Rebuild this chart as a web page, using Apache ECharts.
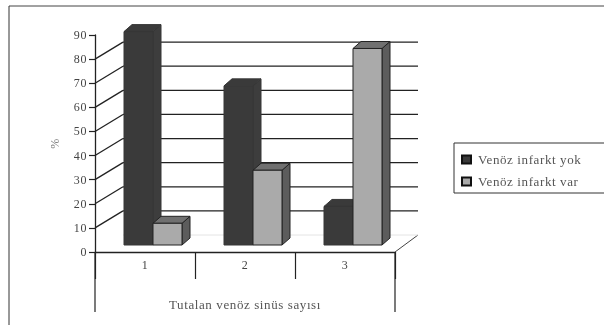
<!DOCTYPE html>
<html>
<head>
<meta charset="utf-8">
<style>
html, body { margin: 0; padding: 0; background: #fff; }
#chart { width: 604px; height: 325px; filter: blur(0.5px); }
#chart text { letter-spacing: 0.6px; }
</style>
<script src="https://cdn.jsdelivr.net/npm/echarts@6/dist/echarts.min.js"></script>
</head>
<body>
<div id="chart"></div>
<script>
const categories = ['1', '2', '3'];
const yokValues = [88.5, 66, 16];
const varValues = [9, 31, 81.5];
const wallLevels = [10, 20, 30, 40, 50, 60, 70, 80];
const seriesNames = ['Venöz infarkt yok', 'Venöz infarkt var'];
const yLabel = '%';
const xLabel = 'Tutalan venöz sinüs sayısı';

const wallX = 28, wallY = -17;   // back wall offset
const depthX = 8, depthY = -7;   // bar depth
const floorY = -7;               // bars stand a bit behind the axis
const barW = 29;

const poly = (points, fill, stroke) => ({
  type: 'polygon',
  shape: { points },
  style: { fill, stroke, lineWidth: 1 }
});

const barItem = (slot, front, top, side, edge) => (params, api) => {
  const cat = api.value(0);
  const p = api.coord([cat, api.value(1)]);
  const base = api.coord([cat, 0]);
  const x0 = p[0] - 29 + slot * barW + 8;
  const x1 = x0 + barW;
  const y0 = p[1] + floorY;
  const y1 = base[1] + floorY;
  return {
    type: 'group',
    children: [
      poly([[x1, y0], [x1 + depthX, y0 + depthY], [x1 + depthX, y1 + depthY], [x1, y1]], side, edge),
      poly([[x0, y0], [x0 + depthX, y0 + depthY], [x1 + depthX, y0 + depthY], [x1, y0]], top, edge),
      poly([[x0, y0], [x1, y0], [x1, y1], [x0, y1]], front, edge)
    ]
  };
};

// left and right ends of the plot, taken from the category band
const plotEnds = (api, level) => {
  const band = api.size([1, 0])[0];
  const a = api.coord([0, level]);
  const b = api.coord([categories.length - 1, level]);
  return { left: a[0] - band / 2, right: b[0] + band / 2, y: a[1] };
};

const wallItem = (params, api) => {
  const e = plotEnds(api, api.value(0));
  const lineStyle = { stroke: '#222', lineWidth: 1.3 };
  return {
    type: 'group',
    children: [
      { type: 'line', shape: { x1: e.left, y1: e.y, x2: e.left + wallX, y2: e.y + wallY }, style: lineStyle },
      { type: 'line', shape: { x1: e.left + wallX, y1: e.y + wallY, x2: e.right + wallX - 5, y2: e.y + wallY }, style: lineStyle }
    ]
  };
};

const floorItem = (params, api) => {
  const e = plotEnds(api, 0);
  return {
    type: 'group',
    children: [
      { type: 'line', shape: { x1: e.right, y1: e.y, x2: e.right + wallX - 5, y2: e.y + wallY }, style: { stroke: '#444', lineWidth: 1 } },
      { type: 'line', shape: { x1: e.left + wallX, y1: e.y + wallY, x2: e.right + wallX - 5, y2: e.y + wallY }, style: { stroke: '#e4e4e4', lineWidth: 1 } }
    ]
  };
};

const chart = echarts.init(document.getElementById('chart'), null, { renderer: 'svg' });

chart.setOption({
  animation: false,
  backgroundColor: '#fff',
  textStyle: { fontFamily: '"Liberation Serif", serif' },
  grid: { left: 95, right: 209, top: 35, bottom: 73 },
  legend: {
    orient: 'vertical',
    left: 456,
    top: 148,
    itemWidth: 9,
    itemHeight: 8,
    itemGap: 9,
    icon: 'rect',
    data: seriesNames,
    textStyle: { color: '#555', fontSize: 13, padding: [0, 0, 0, 2], fontFamily: '"Liberation Serif", serif' }
  },
  xAxis: {
    type: 'category',
    data: categories,
    name: xLabel,
    nameLocation: 'middle',
    nameGap: 46,
    nameTextStyle: { color: '#555', fontSize: 13 },
    axisLine: { lineStyle: { color: '#222', width: 1.3 } },
    axisTick: { show: true, length: 27, lineStyle: { color: '#222', width: 1.2 } },
    axisLabel: { color: '#444', fontSize: 12, margin: 7 },
    splitLine: { show: false }
  },
  yAxis: {
    type: 'value',
    min: 0,
    max: 90,
    interval: 10,
    name: yLabel,
    nameLocation: 'middle',
    nameRotate: 90,
    nameGap: 34,
    nameTextStyle: { color: '#777', fontSize: 12 },
    axisLine: { show: true, lineStyle: { color: '#222', width: 1.3 } },
    axisTick: { show: true, length: 6, lineStyle: { color: '#222', width: 1.2 } },
    axisLabel: { color: '#444', fontSize: 12, margin: 8 },
    splitLine: { show: false }
  },
  series: [
    {
      type: 'custom',
      silent: true,
      z: 1,
      data: wallLevels.map(v => [v]),
      renderItem: wallItem,
      encode: { y: 0 }
    },
    {
      type: 'custom',
      silent: true,
      z: 1,
      data: [[0]],
      renderItem: floorItem,
      encode: { y: 0 }
    },
    {
      name: seriesNames[0],
      type: 'custom',
      z: 2,
      itemStyle: { color: '#3a3a3a', borderColor: '#111', borderWidth: 1 },
      data: yokValues.map((v, i) => [i, v]),
      renderItem: barItem(0, '#3a3a3a', '#3a3a3a', '#3d3d3d', '#363636'),
      encode: { x: 0, y: 1 }
    },
    {
      name: seriesNames[1],
      type: 'custom',
      z: 3,
      itemStyle: { color: '#aaaaaa', borderColor: '#111', borderWidth: 1 },
      data: varValues.map((v, i) => [i, v]),
      renderItem: barItem(1, '#aaaaaa', '#707070', '#5c5c5c', '#222'),
      encode: { x: 0, y: 1 }
    }
  ],
  graphic: [
    // scanned page frame
    { type: 'line', silent: true, shape: { x1: 9, y1: 6, x2: 604, y2: 6 }, style: { stroke: '#444', lineWidth: 1 } },
    { type: 'line', silent: true, shape: { x1: 9, y1: 6, x2: 9, y2: 325 }, style: { stroke: '#333', lineWidth: 1 } },
    // legend box
    { type: 'rect', silent: true, shape: { x: 454, y: 143, width: 160, height: 50 }, style: { fill: 'none', stroke: '#333', lineWidth: 1 } },
    // long table rules under the plot
    { type: 'line', silent: true, shape: { x1: 95, y1: 252, x2: 95, y2: 312 }, style: { stroke: '#222', lineWidth: 1.2 } },
    { type: 'line', silent: true, shape: { x1: 395, y1: 252, x2: 395, y2: 312 }, style: { stroke: '#222', lineWidth: 1.2 } }
  ]
});
</script>
</body>
</html>
